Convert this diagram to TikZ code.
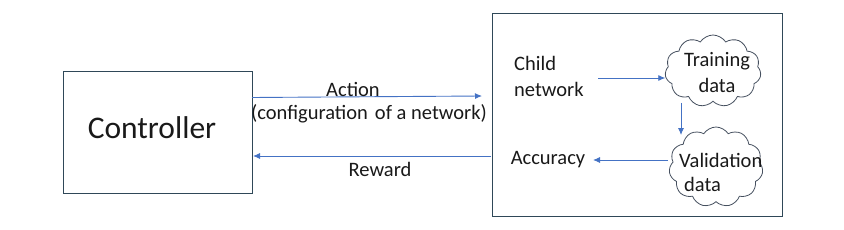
\documentclass[tikz,border=0pt]{standalone}
\usepackage{fontspec}
\setmainfont{Carlito}
\usetikzlibrary{shapes.symbols,arrows.meta}
\definecolor{boxline}{RGB}{47,72,88}
\definecolor{arrowblue}{RGB}{68,114,196}
\definecolor{cloudline}{RGB}{70,80,95}
\tikzset{
  bigbox/.style={draw=boxline,line width=0.9pt,rectangle,inner sep=0pt},
  flow/.style={draw=arrowblue,line width=0.9pt,-{Latex[length=7pt,width=6pt]}},
  lbl/.style={inner sep=0pt,font=\fontsize{20.5}{26}\selectfont,text=black!90},
  cloudbox/.style={draw=cloudline,line width=0.8pt,cloud,cloud puffs=11,cloud puff arc=115,inner sep=0pt}
}
\begin{document}
\begin{tikzpicture}[x=1pt,y=-1pt]
\useasboundingbox (0,0) rectangle (844,230);
\node[bigbox,minimum width=189pt,minimum height=122pt] (ctrl) at (157.5,132) {};
\node[lbl,font=\fontsize{31.5}{36}\selectfont] (ctrltxt) at (152,128) {Controller};
\node[bigbox,minimum width=290pt,minimum height=203pt] (env) at (637,114.5) {};
% action / reward
\coordinate (actS) at (252,97.5);
\coordinate (actE) at (482,96);
\draw[flow] (actS) -- (actE);
\node[lbl] (acttxt) at (353,89) {Action};
\node[lbl] (cfgtxt) at (369,114) {(configuration\hspace{0.12em} of a network)};
\coordinate (rewS) at (491,156);
\coordinate (rewE) at (253,156);
\draw[flow] (rewS) -- (rewE);
\node[lbl] (rewtxt) at (380,169) {Reward};
% inside env
\node[lbl,align=left,anchor=north west] (child) at (514,56) {Child\\network};
\node[cloudbox,minimum width=96pt,minimum height=72pt] (train) at (713,71) {};
\node[lbl,align=center] (traintxt) at (717,73) {Training\\data};
\node[cloudbox,minimum width=94pt,minimum height=80pt] (valid) at (716,167) {};
\node[lbl,anchor=west] (validtxt) at (679,160) {Validation};
\node[lbl,anchor=west] (validdata) at (684,184) {data};
\node[lbl] (acc) at (548,160) {Accuracy};
\coordinate (c2tS) at (598,78);
\draw[flow] (c2tS) -- (train.west |- c2tS);
\coordinate (t2vS) at (681,103);
\coordinate (t2vE) at (681,135);
\draw[flow] (t2vS) -- (t2vE);
\coordinate (v2aS) at (668,160);
\coordinate (v2aE) at (593,160);
\draw[flow] (v2aS) -- (v2aE);
\end{tikzpicture}
\end{document}
